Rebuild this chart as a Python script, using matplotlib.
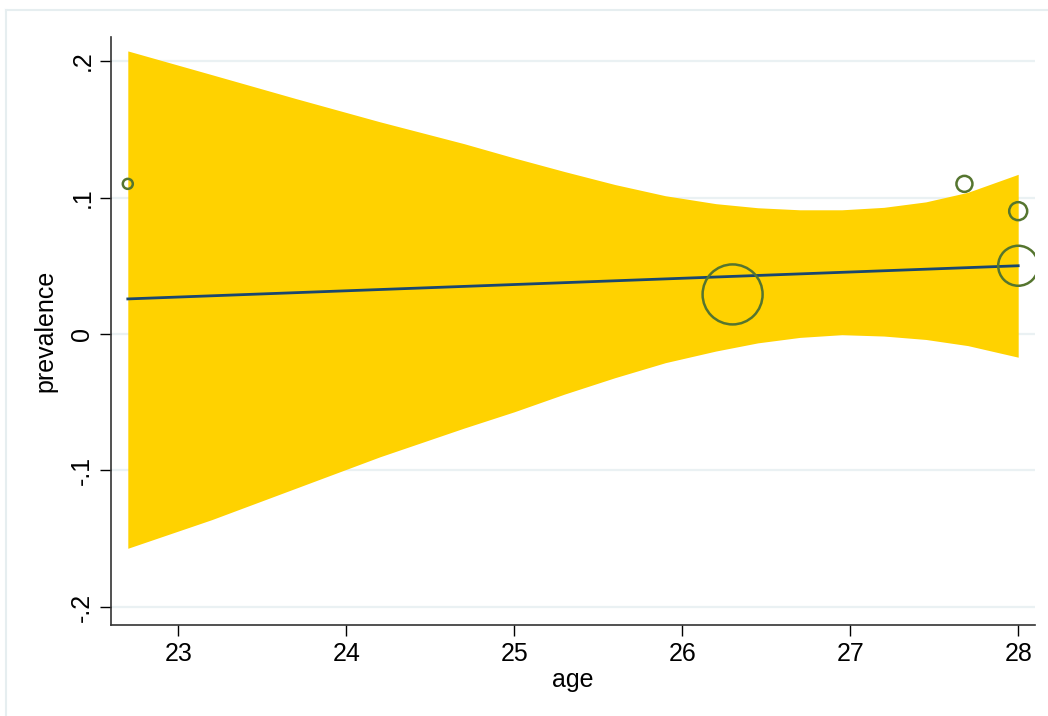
import matplotlib
matplotlib.use("Agg")
import matplotlib.pyplot as plt
from matplotlib.lines import Line2D

# ---- data ----
study_age = [22.7, 26.3, 27.68, 28.0, 28.0]
study_prev = [0.110, 0.029, 0.110, 0.090, 0.050]
study_weight = [25, 900, 64, 81, 400]   # relative bubble areas

fit_age = [22.7, 28.0]
fit_prev = [0.0257, 0.0500]

band_age = [22.7, 23.2, 23.7, 24.2, 24.7, 25.0, 25.3, 25.6, 25.9, 26.2,
            26.45, 26.7, 26.95, 27.2, 27.45, 27.7, 28.0]
band_upper = [0.2074, 0.1900, 0.1725, 0.1555, 0.1395, 0.1290, 0.1190,
              0.1095, 0.1013, 0.0955, 0.0925, 0.0910, 0.0910, 0.0928,
              0.0968, 0.1038, 0.1170]
band_lower = [-0.157, -0.136, -0.113, -0.090, -0.069, -0.057, -0.044,
              -0.032, -0.021, -0.0125, -0.0065, -0.0025, -0.0005, -0.0015,
              -0.0040, -0.0085, -0.0170]

x_ticks = [23, 24, 25, 26, 27, 28]
y_ticks = [-0.2, -0.1, 0.0, 0.1, 0.2]
y_tick_labels = ["-.2", "-.1", "0", ".1", ".2"]

# ---- figure ----
plt.rcParams['font.family'] = ['Liberation Sans', 'DejaVu Sans']
W, H = 1048, 716
fig = plt.figure(figsize=(W / 100, H / 100), dpi=100)
fig.patch.set_facecolor('white')

# outer light frame
frame_c = '#e6eef0'
fig.add_artist(Line2D([6 / W, 1.0], [1 - 10 / H, 1 - 10 / H], color=frame_c, lw=1.5,
                      transform=fig.transFigure))
fig.add_artist(Line2D([6 / W, 6 / W], [0.0, 1 - 10 / H], color=frame_c, lw=1.5,
                      transform=fig.transFigure))

ax = fig.add_axes([111 / W, 1 - 625 / H, (1035 - 111) / W, (625 - 37) / H])
ax.set_facecolor('white')

ax.set_xlim(22.6, 28.10)
ax.set_ylim(-0.2132, 0.2176)

for yt in y_ticks:
    ax.axhline(yt, color='#eaf1f3', lw=1.6, zorder=0)

ax.fill_between(band_age, band_lower, band_upper, color='#ffd200', lw=0, zorder=1)
ax.plot(fit_age, fit_prev, color='#1a476f', lw=2.0, zorder=2)

sizes = [(0.72 * 2 * (w ** 0.5)) ** 2 for w in study_weight]
ax.scatter(study_age, study_prev, s=sizes, facecolors='none',
           edgecolors='#55752f', linewidths=1.8, zorder=3)

ax.set_xticks(x_ticks)
ax.set_xticklabels([str(t) for t in x_ticks])
ax.set_yticks(y_ticks)
ax.set_yticklabels(y_tick_labels, rotation=90, va='center')

for s in ['top', 'right']:
    ax.spines[s].set_visible(False)
for s in ['left', 'bottom']:
    ax.spines[s].set_color('#333333')
    ax.spines[s].set_linewidth(1.2)

ax.tick_params(axis='both', labelsize=18, colors='#000000', length=8, width=1.0,
               direction='out')
ax.tick_params(axis='x', pad=4)
ax.tick_params(axis='y', pad=4)
for t in ax.get_xticklines() + ax.get_yticklines():
    t.set_color('#333333')

ax.set_xlabel('age', fontsize=18, labelpad=2)
ax.set_ylabel('prevalence', fontsize=18, labelpad=9)

fig.savefig('out.png', dpi=100, facecolor='white')
